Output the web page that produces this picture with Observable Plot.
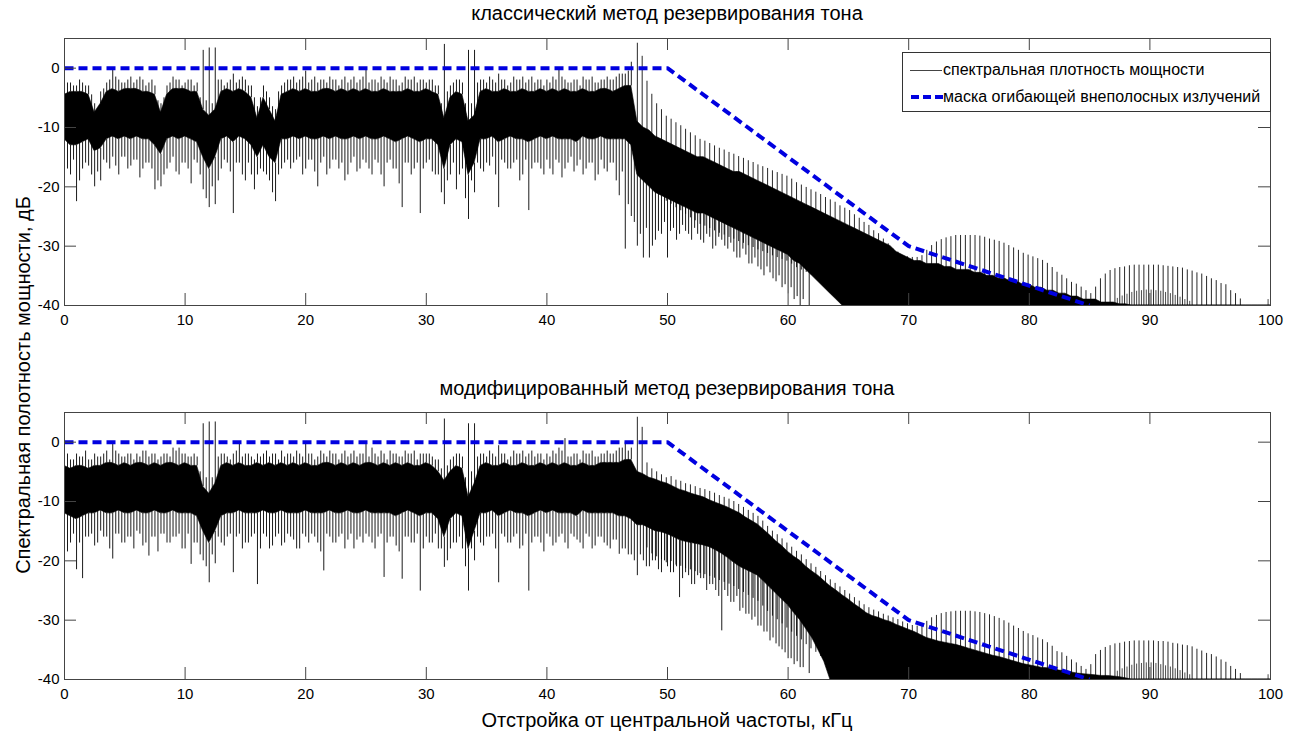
<!DOCTYPE html>
<html lang="ru"><head><meta charset="utf-8">
<script src="https://cdn.jsdelivr.net/npm/d3@7"></script>
<script src="https://cdn.jsdelivr.net/npm/@observablehq/plot@0.6"></script>
<style>
html,body{margin:0;padding:0;background:#fff;}
#fig{position:relative;width:1303px;height:739px;overflow:hidden;font-family:"Liberation Sans",Arial,Helvetica,sans-serif;color:#000;background:#fff;}
.txt{position:absolute;white-space:nowrap;line-height:20px;}
.panel{position:absolute;left:0;}
#legend{position:absolute;left:902px;top:52px;width:367px;height:58px;border:1px solid #333;background:#fff;font-size:16px;}
</style></head>
<body><div id="fig">
<div class="panel" id="p1" style="top:0"></div>
<div class="panel" id="p2" style="top:374px"></div>
<div class="txt" style="left:0;width:1334px;text-align:center;top:3px;font-size:20px">классический метод резервирования тона</div>
<div class="txt" style="left:0;width:1334px;text-align:center;top:378px;font-size:20px">модифицированный метод резервирования тона</div>
<div class="txt" style="left:0;width:1334px;text-align:center;top:710px;font-size:20px">Отстройка от центральной частоты, кГц</div>
<div class="txt" style="left:23px;top:385px;font-size:20px;transform:translate(-50%,-50%) rotate(-90deg)">Спектральная полотность мощности, дБ</div>
<div id="legend">
<svg width="40" height="58" style="position:absolute;left:0;top:0">
<line x1="7" x2="39" y1="17.5" y2="17.5" stroke="#444" stroke-width="1"/>
<line x1="8" x2="40" y1="44" y2="44" stroke="#0000e0" stroke-width="4" stroke-dasharray="8,4" stroke-linecap="butt"/>
</svg>
<div class="txt" style="left:40px;top:7px;font-size:16px;">спектральная плотность мощности</div>
<div class="txt" style="left:40px;top:34px;font-size:16px;">маска огибающей внеполосных излучений</div>
</div>
</div>
<script>
// ---- data ----
const freq = [0,0.5,1,1.5,2,2.5,3,3.5,4,4.5,5,5.5,6,6.5,7,7.5,8,8.5,9,9.5,
10,10.5,11,11.5,12,12.5,13,13.5,14,14.5,15,15.5,16,16.5,17,17.5,18,18.5,19,19.5,
20,20.5,21,21.5,22,22.5,23,23.5,24,24.5,25,25.5,26,26.5,27,27.5,28,28.5,29,29.5,
30,30.5,31,31.5,32,32.5,33,33.5,34,34.5,35,35.5,36,36.5,37,37.5,38,38.5,39,39.5,
40,40.5,41,41.5,42,42.5,43,43.5,44,44.5,45,45.5,46,46.5,47,47.5,48,48.5,49,49.5,
50,50.5,51,51.5,52,52.5,53,53.5,54,54.5,55,55.5,56,56.5,57,57.5,58,58.5,59,59.5,
60,60.5,61,61.5,62,62.5,63,63.5,64,64.5,65,65.5,66,66.5,67,67.5,68,68.5,69,69.5,
70,70.5,71,71.5,72,72.5,73,73.5,74,74.5,75,75.5,76,76.5,77,77.5,78,78.5,79,79.5,
80,80.5,81,81.5,82,82.5,83,83.5,84,84.5,85,85.5,86,86.5,87,87.5,88,88.5,89,89.5,
90,90.5,91,91.5,92,92.5,93,93.5,94,94.5,95,95.5,96,96.5,97,97.5,98,98.5,99,99.5,100];
// in-between frequencies for the extra noise spikes
const freqMid = [0.25,0.75,1.25,1.75,2.25,2.75,3.25,3.75,4.25,4.75,
5.25,5.75,6.25,6.75,7.25,7.75,8.25,8.75,9.25,9.75,
10.25,10.75,11.25,11.75,12.25,12.75,13.25,13.75,14.25,14.75,
15.25,15.75,16.25,16.75,17.25,17.75,18.25,18.75,19.25,19.75,
20.25,20.75,21.25,21.75,22.25,22.75,23.25,23.75,24.25,24.75,
25.25,25.75,26.25,26.75,27.25,27.75,28.25,28.75,29.25,29.75,
30.25,30.75,31.25,31.75,32.25,32.75,33.25,33.75,34.25,34.75,
35.25,35.75,36.25,36.75,37.25,37.75,38.25,38.75,39.25,39.75,
40.25,40.75,41.25,41.75,42.25,42.75,43.25,43.75,44.25,44.75,
45.25,45.75,46.25,46.75,47.25,47.75,48.25,48.75,49.25,49.75,
50.25,50.75,51.25,51.75,52.25,52.75,53.25,53.75,54.25,54.75,
55.25,55.75,56.25,56.75,57.25,57.75,58.25,58.75,59.25,59.75,
60.25,60.75,61.25,61.75];

// classic method: upper fringe tips, top of dense band, bottom of dense band, lower fringe tips (dB)
const classicUp = [-3,-2.5,-3,-2.5,-3,-6,-4,-2.5,0,-2,
-2.5,-1.5,-2,-2,-2.5,-3,-6,-3,-1.5,-2,
-2.5,-2,-2.5,3,3.4,3.4,-2,-2.5,-1,-2,
-2,-3,-6.5,-3,-5,-7,-3,-2,-1.5,-2,
-0.5,-2,-2.5,-2,-1.5,-2,-2,-2.5,-1.5,-2,
0,-2,-2.5,-2,-1.5,-2,-2.5,-2,-1.5,-2,
-2.5,-2,-3,4,-3,-2,-2.5,3,3,-2,
-2.5,-2,-1,-2,-2.5,-2,-1.5,-2,-2.5,-2,
-2,-1.5,0,-2,-2.5,-2,-1.5,-2,-2.5,-2,
-1.5,-2,-1,-1,1];
const classicUpMid = [-2.5,-3,-2,-3,-4.5,-7,-3.5,-2,-1.5,-2.5,
-2,-2.5,-1.5,-3,-2,-5.5,-5,-2.5,-2,-3,
-2,-3,-5,-5.5,-6,-2,-3,-2,-2.5,-1.5,
-3,-5,-5,-4,-6.5,-4,-2.5,-2,-2.5,-1.5,
-2.5,-1.5,-2,-2.5,-2,-3,-1.5,-2,-2.5,-1.5,
-2.5,-2,-1.5,-2.5,-2,-3,-1.5,-2,-2.5,-2,
-2,-3,-6,-4,-2.5,-2,-6,-6,-2.5,-2,
-1.5,-2.5,-2,-3,-1.5,-2,-2.5,-1.5,-2,-3,
-2.5,-2,-1.5,-2.5,-2,-3,-2,-1.5,-2.5,-2,
-2,-1.5,-1,-0.5];
const classicHi = [-4.5,-4,-4,-4,-4.5,-7.5,-6,-4,-3.5,-4,
-3.5,-3.5,-3.5,-4,-4,-4.5,-7.5,-4.5,-3.5,-3.5,
-3.5,-4,-4,-7,-8,-7,-4,-3.5,-4,-3.5,
-4,-5,-8.5,-5,-7,-9,-4.5,-4,-3.5,-4,
-3.5,-4,-4,-3.5,-3.5,-4,-3.5,-4,-3.5,-4,
-3.5,-4,-4,-3.5,-4,-4,-4,-3.5,-4,-4,
-3.5,-4,-4.5,-8.5,-5,-4,-4.5,-9,-8,-4,
-3.5,-4,-4,-3.5,-4,-4,-3.5,-4,-4,-3.5,
-4,-3.5,-4,-3.5,-4,-4,-3.5,-4,-4,-3.5,
-3.5,-4,-3.5,-3,-3,-9,-10,-10.5,-11.5,-12,
-12.5,-13,-13.5,-14,-14.5,-15,-15,-15.5,-16,-16.5,
-17,-17.5,-17.5,-18,-18.5,-19,-19.5,-20,-20.5,-21,
-21.5,-22,-22.5,-23,-23.5,-24,-24.5,-25,-25.5,-26,
-26.5,-27,-27.5,-28,-28.5,-29,-29.5,-30,-31,-31.5,
-32,-32.5,-32.5,-33,-33,-33,-33.5,-33.5,-34,-34,
-34,-34.5,-34.5,-35,-35,-35.5,-35.5,-36,-36,-36.5,
-36.5,-37,-37,-37.5,-37.5,-38,-38,-38.5,-38.5,-39,
-39,-39,-39.5,-39.5,-39.5,-39.8,-39.8,-40,-40,-40,
-40,-40,-40,-40,-40,-40,-40,-40,-40,-40,
-40,-40,-40,-40,-40,-40,-40,-40,-40,-40,-40];
const classicLo = [-12,-13,-13,-12.5,-12,-14,-13.5,-12,-11.5,-12,
-11.5,-12,-11.5,-12,-12,-13,-14.5,-12,-11.5,-12,
-11.5,-12,-12.5,-15,-17,-15,-12,-11.5,-12.5,-11.5,
-12,-13,-15,-13,-15,-16,-12,-12,-11.5,-12,
-11.5,-12,-12,-11.5,-12,-11.5,-12,-12,-11.5,-12,
-11.5,-12,-12,-11.5,-12,-12.5,-12,-11.5,-12,-12.5,
-12,-12,-13,-17,-13,-12,-12.5,-18,-16,-12,
-12,-11.5,-12.5,-12,-11.5,-12,-12,-12.5,-12,-11.5,
-12,-11.5,-12,-12,-12,-12.5,-11.5,-12,-12,-11.5,
-12,-12,-12,-12,-13,-18,-19,-20,-21,-21.5,
-22,-22.5,-23,-23.5,-24,-24.5,-24.5,-25,-25.5,-26,
-26.5,-27,-27.5,-28,-28.5,-29,-29.5,-30,-30.5,-31,
-31.5,-32.5,-33,-34,-35,-36,-37,-38,-39,-40,
-40,-40,-40,-40,-40,-40,-40,-40,-40,-40,
-40,-40,-40,-40,-40,-40,-40,-40,-40,-40,
-40,-40,-40,-40,-40,-40,-40,-40,-40,-40,
-40,-40,-40,-40,-40,-40,-40,-40,-40,-40,
-40,-40,-40,-40,-40,-40,-40,-40,-40,-40,
-40,-40,-40,-40,-40,-40,-40,-40,-40,-40,
-40,-40,-40,-40,-40,-40,-40,-40,-40,-40,-40];
const classicDn = [-16,-18,-22.5,-17,-16.5,-20,-19,-16,-15,-18,
-15,-16.5,-15.5,-17,-16,-20.5,-20,-17,-15,-18,
-16,-19.5,-16,-20.5,-23.5,-23,-17,-16,-24.5,-16,
-19,-18,-18,-17.5,-19,-22.5,-17,-15.5,-16,-15,
-17,-15.5,-20,-15,-17,-15.5,-16,-18,-15,-17,
-16,-18,-16,-20,-15.5,-17,-23.5,-16,-17,-24.5,
-16,-17.5,-18,-23,-18,-20.5,-17,-25.5,-21,-17,
-16,-15,-23.5,-16,-17,-15.5,-18,-24,-16,-17,
-15.5,-18,-16,-17,-15,-16.5,-18,-16,-19,-15.5,
-17.5,-16,-21.5,-30.5,-25,-30,-32,-32,-29,-28,
-32,-27,-28,-27.5,-29,-28,-29.5,-28.5,-30,-29,
-30.5,-31,-32,-31.5,-33,-33.5,-35,-34.5,-36,-37,
-38,-39,-40];
const classicDnMid = [-17,-15.5,-19,-16,-18,-17.5,-15.5,-17,-16.5,-15,
-17,-15.5,-18.5,-16,-17,-19,-18,-16,-17.5,-16,
-17,-15.5,-18,-22,-20,-19,-15.5,-17.5,-16,-18,
-16,-20.5,-17,-18,-21,-18,-16,-17,-15.5,-18,
-15.5,-17.5,-16,-18,-15.5,-17,-19,-16,-17.5,-15.5,
-17,-15.5,-18,-16,-17,-19.5,-16,-18,-16,-17,
-15.5,-18,-21,-19,-16,-18,-22,-19,-16,-17.5,
-16.5,-18,-15.5,-17,-16,-19,-15.5,-17,-16,-18,
-17,-15.5,-18.5,-16,-17.5,-15.5,-17,-16,-18,-17,
-16,-19,-17.5,-23,-26,-28,-27,-30,-27.5,-26,
-27.5,-29,-26.5,-28,-27,-29,-28,-30.5,-28.5,-30,
-29.5,-32,-30.5,-33,-32,-34,-33.5,-35.5,-35,-36.5,
-37,-38.5,-39,-40];

// modified method
const modUp = [-2.5,-3,-2,-2.5,-3,-2,-2.5,-1.5,0,-2,
-2.5,-2,-2,-1.5,-2.5,-2,-2.5,-2,-1,-1,
-2,-2.5,-2.5,3.1,3.4,3.4,-2,-2.5,-2,0,
-2,-2.5,-2,-2,-2.5,-2,-1.5,-2,-2.5,-2,
0,-2,-2.5,-2,-1.5,-2,-2,-2.5,-1.5,-2,
-0.3,-1,-2.5,-2,-1.5,-2,-2.5,-2,-1.5,-2,
-2,-2.5,-3,3.9,-3,-2,-2.5,3.1,3.1,-2,
-2.5,-2,-0.6,-2,-2.5,-2,-1.5,-2,-2.5,-2,
-2,-1.5,-1,0.6,-2.5,-2,-1.5,-2,-2.5,-2,
-1.5,-2,-1,0,-1];
const modUpMid = [-2,-3,-2.5,-1.5,-3,-2.5,-2,-3,-1.5,-2.5,
-2,-3,-2.5,-1.5,-2,-3,-2,-2.5,-1.5,-2,
-2.5,-2,-5,-6,-6,-2.5,-2,-3,-1.5,-2.5,
-2,-3,-2.5,-1.5,-2,-3,-2.5,-2,-1.5,-2.5,
-2,-3,-1.5,-2.5,-2,-3,-1.5,-2,-2.5,-2,
-2.5,-2,-1.5,-3,-2,-2.5,-1.5,-2,-3,-2,
-2,-3,-4.5,-4,-2.5,-2,-6,-5,-2.5,-2,
-1.5,-2.5,-2,-3,-1.5,-2,-2.5,-1.5,-2,-3,
-2.5,-2,-1.5,-2.5,-2,-3,-2,-1.5,-2.5,-2,
-2,-1.5,-1,-1.5];
const modHi = [-4,-4.5,-4,-4,-4.5,-4,-4,-3.5,-3.5,-4,
-3.5,-4,-3.5,-3.5,-4,-3.5,-4,-3.5,-3.5,-4,
-3.5,-4,-4,-7.5,-8.7,-7,-4,-3.5,-4,-3.5,
-4,-4,-3.5,-4,-3.5,-4,-3.5,-4,-3.5,-4,
-3.5,-4,-4,-3.5,-3.5,-4,-3.5,-4,-3.5,-4,
-3.5,-3.5,-4,-3.5,-4,-3.5,-4,-3.5,-4,-4,
-3.5,-4,-5,-6.5,-5,-4,-4.5,-9.3,-7,-4,
-3.5,-4,-4,-3.5,-4,-4,-3.5,-4,-4,-3.5,
-4,-3.5,-4,-3.5,-4,-4,-3.5,-4,-4,-3.5,
-3.5,-3.5,-3.5,-3,-3,-5,-5.4,-6,-6.3,-6.7,
-7,-7.5,-8,-8.3,-8.7,-9,-9.3,-9.8,-10.2,-10.6,
-11,-11.5,-12,-12.7,-13.3,-13.9,-14.8,-15.7,-16.7,-17.5,
-18.5,-19.3,-20,-21,-21.8,-22.5,-23.4,-24.3,-25,-25.8,
-26.5,-27.3,-28,-28.8,-29.3,-29.6,-30,-30.3,-30.8,-31.2,
-31.6,-32,-32.5,-33,-33.3,-33.6,-33.8,-34,-34.2,-34.5,
-34.8,-35.1,-35.4,-35.7,-36,-36.2,-36.5,-36.8,-37.1,-37.4,
-37.6,-37.8,-38,-38.1,-38.3,-38.5,-38.6,-38.8,-39,-39.1,
-39.2,-39.3,-39.4,-39.4,-39.5,-39.6,-39.8,-40,-40,-40,
-40,-40,-40,-40,-40,-40,-40,-40,-40,-40,
-40,-40,-40,-40,-40,-40,-40,-40,-40,-40,-40];
const modLo = [-12,-12.5,-13,-12.5,-12,-12,-11.5,-12,-12,-11.5,
-12,-12,-11.5,-12,-12,-11.5,-12,-12,-11.5,-12,
-12,-12,-12.5,-15,-17,-15,-12.5,-12,-12,-11.5,
-12,-12,-12,-11.5,-12,-12,-11.5,-12,-12,-12,
-11.5,-12,-12,-12,-11.5,-12,-12,-11.5,-12,-12,
-11.5,-12,-12,-12,-12,-12.5,-12,-11.5,-12,-12.5,
-12,-12,-13,-16,-13,-12,-12.5,-18,-15,-12,
-12,-11.5,-12.5,-12,-11.5,-12,-12,-12.5,-12,-11.5,
-12,-11.5,-12,-12,-12,-12.5,-11.5,-12,-12,-12,
-12,-12,-12.5,-12.5,-13,-14,-14,-14.5,-15,-15.2,
-15.5,-16,-16.5,-16.8,-17,-17.2,-17.4,-17.7,-18.2,-18.8,
-19.5,-20.3,-21,-21.5,-22,-22.5,-23.5,-24.5,-25.5,-26.5,
-27.5,-28.8,-30,-31.5,-33,-35,-37,-40,-40,-40,
-40,-40,-40,-40,-40,-40,-40,-40,-40,-40,
-40,-40,-40,-40,-40,-40,-40,-40,-40,-40,
-40,-40,-40,-40,-40,-40,-40,-40,-40,-40,
-40,-40,-40,-40,-40,-40,-40,-40,-40,-40,
-40,-40,-40,-40,-40,-40,-40,-40,-40,-40,
-40,-40,-40,-40,-40,-40,-40,-40,-40,-40,
-40,-40,-40,-40,-40,-40,-40,-40,-40,-40,-40];
const modDn = [-16,-17,-21.5,-23,-16,-17.5,-15,-16,-19.7,-15.5,
-17,-16,-15,-17.5,-19.2,-16,-15.5,-17,-16,-15.5,
-18,-20.6,-17,-20,-23.7,-20.5,-17,-16,-22,-15.5,
-17,-16,-24,-15.5,-18,-16,-17.5,-15.5,-16.5,-18,
-16,-15.5,-17,-21.7,-16,-17,-15.5,-16.5,-18,-16,
-15.5,-17,-16,-22.8,-16,-17.5,-23.1,-16,-17,-25.1,
-16,-17,-18,-21.1,-18,-17,-18,-25.1,-20,-17,
-16,-15.5,-23.7,-16,-17,-15.5,-17.5,-25.1,-16,-17,
-15.5,-17.5,-16,-17,-15.5,-16.5,-18,-16,-17.5,-16,
-17.5,-16.5,-18.9,-18,-19,-22.5,-20,-21,-20,-22,
-21,-22,-26.2,-22,-24,-22.5,-23,-24,-25,-31.8,
-26,-27,-28.5,-29,-30,-31,-32,-33.5,-34,-35,
-36.5,-37.5,-38];
const modDnMid = [-18.5,-15.5,-17,-16,-15.5,-17,-16,-18,-15.5,-17,
-16,-18,-15.5,-17,-16,-18.5,-15.5,-17,-16,-18,
-15.5,-17,-19,-21,-19,-16,-17.5,-15.5,-16,-18,
-17,-15.5,-18,-16,-17.5,-15.5,-17,-16,-18,-15.5,
-17,-16,-18.5,-15.5,-17,-16,-18,-15.5,-16.5,-17,
-16,-18,-15.5,-17,-16,-18.5,-16,-17,-15.5,-18,
-17,-15.5,-18,-20,-17,-16,-21,-18,-16,-17.5,
-16,-18,-15.5,-17,-16,-18,-15.5,-17,-16,-18.5,
-16,-17,-15.5,-18,-16,-17,-15.5,-18,-16,-17,
-18,-16.5,-18,-19,-20,-19,-21,-20,-21.5,-20,
-22,-21,-23,-22.5,-24,-23,-25,-24,-26,-25,
-27,-26,-28,-29,-29.5,-31,-32,-33,-34.5,-35.5,
-36.5,-37,-38,-39];

// harmonic comb lines outside the band (kHz) and their peak levels (dB)
const combFreq = [47.5,47.9,48.3,48.7,49.1,49.5,49.9,50.3,50.7,51.1,
51.5,51.9,52.3,52.7,53.1,53.5,53.9,54.3,54.7,55.1,
55.5,55.9,56.3,56.7,57.1,57.5,57.9,58.3,58.7,59.1,
59.5,59.9,60.3,60.7,61.1,61.5,61.9,62.3,62.7,63.1,
63.5,63.9,64.3,64.7,65.1,65.5,65.9,66.3,66.7,67.1,
67.5,67.9,68.3,68.7,69.1,69.5,69.9,70.3,70.7,71.1,
71.5,71.9,72.3,72.7,73.1,73.5,73.9,74.3,74.7,75.1,
75.5,75.9,76.3,76.7,77.1,77.5,77.9,78.3,78.7,79.1,
79.5,79.9,80.3,80.7,81.1,81.5,81.9,82.3,82.7,83.1,
83.5,83.9,84.3,84.7,85.1,85.5,85.9,86.3,86.7,87.1,
87.5,87.9,88.3,88.7,89.1,89.5,89.9,90.3,90.7,91.1,
91.5,91.9,92.3,92.7,93.1,93.5,93.9,94.3,94.7,95.1,
95.5,95.9,96.3,96.7,97.1,97.5];
const classicComb = [4.2,2,-2.2,-4.4,-6,-7,-8.1,-8.6,-9.2,-9.7,
-10.3,-10.9,-11.4,-12,-12.3,-12.7,-13.1,-13.5,-13.8,-14.2,
-14.5,-14.9,-15.2,-15.6,-15.9,-16.3,-16.6,-16.9,-17.3,-17.6,
-17.9,-18.2,-18.7,-19.3,-19.7,-20.1,-20.5,-20.9,-21.3,-21.8,
-22.2,-22.6,-23.2,-23.6,-24,-24.7,-25.3,-26,-26.5,-27.4,
-27.9,-28.8,-29.6,-30.5,-31,-31.6,-31.8,-31.9,-31.9,-31.6,
-30.7,-29.9,-29.3,-28.9,-28.6,-28.4,-28.2,-28.2,-28.2,-28.2,
-28.2,-28.3,-28.5,-28.8,-29,-29.2,-29.5,-29.9,-30.3,-30.7,
-31.2,-31.5,-31.8,-32.1,-32.4,-32.9,-33.6,-34.4,-34.9,-35.5,
-36.1,-36.4,-36.9,-37.5,-38,-36.9,-35.5,-34.7,-34.1,-33.8,
-33.6,-33.5,-33.3,-33.2,-33.2,-33.2,-33.2,-33.2,-33.2,-33.3,
-33.4,-33.5,-33.6,-33.7,-34,-34.2,-34.5,-34.7,-35.1,-35.5,
-35.8,-36.3,-36.5,-37.5,-38,-38.9];
const modComb = [4.2,2.5,-3.5,-4.5,-5,-5.5,-6,-5.8,-6.4,-6.6,
-7,-7.2,-7.5,-7.8,-8,-8.3,-8.6,-9,-9.3,-9.6,
-10,-10.5,-11,-11.5,-12,-12.5,-13.3,-14.2,-15,-15.6,
-16.3,-17,-17.7,-18.4,-19,-19.8,-20.5,-21.1,-21.8,-22.5,
-23.2,-23.8,-24.4,-25,-25.6,-26.2,-26.8,-27.4,-27.9,-28.3,
-28.6,-29,-29.3,-29.6,-29.9,-30.3,-30.6,-30.9,-31,-30.8,
-30.2,-29.6,-29.2,-28.9,-28.7,-28.6,-28.5,-28.5,-28.5,-28.5,
-28.6,-28.7,-28.9,-29.1,-29.4,-29.7,-30.1,-30.5,-31,-31.4,
-31.9,-32.3,-32.6,-33,-33.3,-33.8,-34.4,-35.3,-35.5,-36.1,
-36.7,-37.2,-37.8,-38.3,-37.5,-35.8,-35.1,-34.6,-34.3,-34,
-33.9,-33.7,-33.6,-33.5,-33.5,-33.5,-33.5,-33.5,-33.6,-33.6,
-33.7,-33.9,-34,-34.2,-34.3,-34.5,-34.9,-35.2,-35.6,-35.8,
-36.2,-36.7,-37.1,-37.8,-38.3,-39];
// secondary short lines inside the second side lobe, plus the last lone line
const innerFreq = [87.3,87.7,88.1,88.5,88.9,89.3,89.7,90.1,90.5,90.9,91.3,91.7,92.1,92.5,92.9,93.3,99.8];
const classicInner = [-38.8,-38.4,-38.1,-37.8,-37.6,-37.5,-37.4,-37.4,-37.5,-37.6,-37.8,-38,-38.3,-38.6,-39,-39.3,-39];
const modInner = [-38.6,-38.2,-37.9,-37.6,-37.4,-37.3,-37.2,-37.2,-37.3,-37.5,-37.7,-37.9,-38.2,-38.5,-38.9,-39.2,-39.2];

// out-of-band emission mask
const maskFreq = [0, 50, 70, 85];
const maskLevel = [0, 0, -30, -40];

const xTicks = [0,10,20,30,40,50,60,70,80,90,100];
const yTicks = [-40,-30,-20,-10,0];

// ---- drawing ----
const FONT = "'Liberation Sans', Arial, Helvetica, sans-serif";
function panel(up, upMid, hi, lo, dn, dnMid, comb, inner) {
  const band = freq.map((f, i) => ({f, hi: hi[i], lo: lo[i]}));
  const upR = up.map((u, i) => ({f: freq[i], a: hi[i], b: u})).filter(d => d.b > d.a);
  const dnR = dn.map((v, i) => ({f: freq[i], a: v, b: lo[i]})).filter(d => d.a < d.b);
  // mid spikes start inside the dense band (between the neighbouring band edges)
  const upMidR = upMid.map((u, i) => ({f: freqMid[i], a: Math.max(lo[i], lo[i + 1]), b: u}));
  const dnMidR = dnMid.map((v, i) => ({f: freqMid[i], a: v, b: Math.min(hi[i], hi[i + 1])}));
  const combR = combFreq.map((f, i) => ({f, top: comb[i]}));
  const innerR = innerFreq.map((f, i) => ({f, top: inner[i]}));
  const mask = maskFreq.map((f, i) => ({f, v: maskLevel[i]}));
  const H = 330, mT = 38, mB = 25, mL = 64, mR = 33, W = 1303;
  const fh = H - mT - mB, fw = W - mL - mR, tk = 12;
  const thin = {stroke: "#000", strokeWidth: 0.9, clip: true};
  return Plot.plot({
    width: W, height: H, marginLeft: mL, marginRight: mR, marginTop: mT, marginBottom: mB,
    style: {fontFamily: FONT, fontSize: "15px", color: "#000", background: "transparent", overflow: "visible"},
    x: {domain: [0, 100], ticks: xTicks, tickSize: 0, tickPadding: 9, label: null, tickFormat: d => String(d)},
    y: {domain: [-40, 5], ticks: yTicks, tickSize: 0, tickPadding: 5, label: null, tickFormat: d => String(d)},
    marks: [
      Plot.ruleX(dnMidR, {x: "f", y1: "a", y2: "b", ...thin}),
      Plot.ruleX(upMidR, {x: "f", y1: "a", y2: "b", ...thin}),
      Plot.areaY(band, {x: "f", y1: "lo", y2: "hi", fill: "#000", stroke: "#000", strokeWidth: 0.6, clip: true}),
      Plot.ruleX(dnR, {x: "f", y1: "a", y2: "b", ...thin}),
      Plot.ruleX(upR, {x: "f", y1: "a", y2: "b", ...thin}),
      Plot.ruleX(combR, {x: "f", y1: "top", y2: "top", insetBottom: -85, stroke: "#000", strokeWidth: 0.85, clip: true}),
      Plot.ruleX(innerR, {x: "f", y1: "top", y2: "top", insetBottom: -60, stroke: "#000", strokeWidth: 0.7, clip: true}),
      Plot.line(mask, {x: "f", y: "v", stroke: "#0000e0", strokeWidth: 4, strokeDasharray: "9,5", strokeLinecap: "butt", strokeLinejoin: "miter", clip: true}),
      Plot.frame({stroke: "#444"}),
      Plot.ruleX(xTicks, {x: d => d, insetTop: fh - tk, stroke: "#444"}),
      Plot.ruleX(xTicks, {x: d => d, insetBottom: fh - tk, stroke: "#444"}),
      Plot.ruleY(yTicks, {y: d => d, insetRight: fw - tk, stroke: "#444"}),
      Plot.ruleY(yTicks, {y: d => d, insetLeft: fw - tk, stroke: "#444"})
    ]
  });
}
document.getElementById("p1").appendChild(panel(classicUp, classicUpMid, classicHi, classicLo, classicDn, classicDnMid, classicComb, classicInner));
document.getElementById("p2").appendChild(panel(modUp, modUpMid, modHi, modLo, modDn, modDnMid, modComb, modInner));
</script>
</body></html>
